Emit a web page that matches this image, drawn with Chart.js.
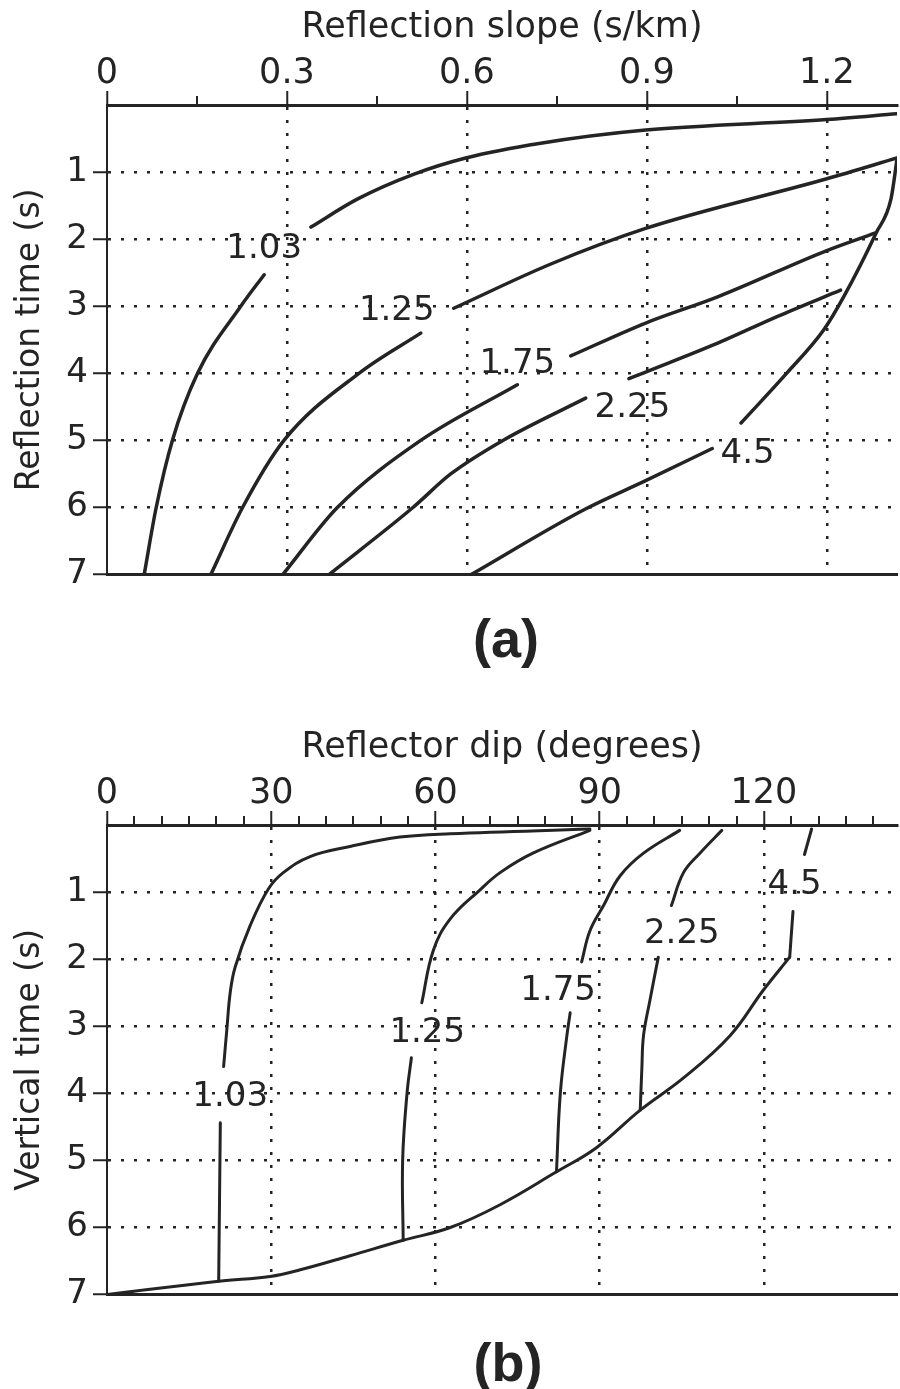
<!DOCTYPE html>
<html>
<head>
<meta charset="utf-8">
<script src="https://cdn.jsdelivr.net/npm/chart.js@4.4.1/dist/chart.umd.min.js"></script>
<style>
  html, body { margin: 0; padding: 0; background: #fff; }
  body { width: 900px; height: 1389px; position: relative; overflow: hidden; }
  .box { position: absolute; left: 0; width: 900px; height: 600px; }
  #boxA { top: 0; }
  #boxB { top: 720px; }
  .tag { position: absolute; width: 120px; text-align: center; color: #242424;
         font: bold 54px "Liberation Sans", Arial, sans-serif; line-height: 60px; }
  #tagA { left: 446px; top: 608px; }
  #tagB { left: 448px; top: 1332px; }
</style>
</head>
<body>
<div class="box" id="boxA"><canvas id="chartA" width="900" height="600"></canvas></div>
<div class="box" id="boxB"><canvas id="chartB" width="900" height="600"></canvas></div>
<div class="tag" id="tagA">(a)</div>
<div class="tag" id="tagB">(b)</div>
<script>
const INK = "#242424";
const FONT = '"DejaVu Sans", sans-serif';

// ---- (a) reflection slope (s/km) vs reflection time (s)
// each curve is split where its label sits: [lower part, upper part]
const slope103 = [
  [[0.062, 7], [0.082, 6], [0.109, 5], [0.151, 4], [0.223, 3], [0.262, 2.53]],
  [[0.34, 1.82], [0.418, 1.4], [0.512, 1.03], [0.598, 0.79], [0.723, 0.57], [0.898, 0.374], [1.2, 0.217], [1.317, 0.13]]
];
const slope125 = [
  [[0.173, 7], [0.226, 6], [0.295, 5], [0.42, 4], [0.523, 3.4]],
  [[0.578, 3.03], [0.74, 2.37], [0.898, 1.84], [1.2, 1.1], [1.317, 0.79]]
];
const slope175 = [
  [[0.293, 7], [0.384, 6], [0.523, 5], [0.684, 4.17]],
  [[0.773, 3.74], [0.898, 3.25], [1.018, 2.86], [1.2, 2.17], [1.28, 1.91]]
];
const slope225 = [
  [[0.37, 7], [0.51, 6], [0.573, 5.5], [0.66, 5], [0.798, 4.37]],
  [[0.87, 4.08], [0.898, 3.98], [1.018, 3.55], [1.118, 3.15], [1.223, 2.76]]
];
const slope45 = [
  [[0.607, 7], [0.796, 6.03], [0.898, 5.6], [1.009, 5.12]],
  [[1.057, 4.74], [1.134, 3.99], [1.195, 3.35], [1.228, 2.86], [1.282, 1.91], [1.307, 1.4], [1.317, 0.81]]
];
const slopeLabels = ["1.03", "1.25", "1.75", "2.25", "4.5"];
const slopeLabelX = [0.262, 0.483, 0.684, 0.876, 1.068];
const slopeLabelY = [2.10, 3.02, 3.81, 4.47, 5.16];

// ---- (b) reflector dip (degrees) vs vertical time (s)
const dipEnvelope = [
  [[0, 7], [20.4, 6.8], [29.8, 6.73], [35.3, 6.63], [44.4, 6.42], [54.1, 6.19], [62.7, 6.0],
   [71.8, 5.66], [82.1, 5.17], [89.4, 4.81], [97.4, 4.25], [105.3, 3.77], [113.8, 3.14],
   [119.9, 2.46], [124.7, 1.97]]
];
const dip103 = [
  [[20.4, 6.8], [20.7, 4.44]],
  [[21.3, 3.6], [21.9, 3.04], [22.5, 2.5], [23.4, 2.12], [26.2, 1.49], [29.5, 0.95], [32.2, 0.71],
   [37.1, 0.47], [44.4, 0.32], [53.5, 0.18], [62.7, 0.13], [88.2, 0.06]]
];
const dip125 = [
  [[54.1, 6.19], [54.0, 5.0], [54.8, 4.0], [55.6, 3.47]],
  [[57.5, 2.65], [59.6, 1.87], [62.7, 1.4], [68.1, 0.97], [71.8, 0.71], [77.8, 0.42], [88.2, 0.08]]
];
const dip175 = [
  [[82.1, 5.17], [82.8, 4.0], [84.0, 3.14], [84.6, 2.8]],
  [[86.7, 2.04], [88.2, 1.58], [90.7, 1.2], [93.7, 0.76], [98.0, 0.42], [104.6, 0.08]]
];
const dip225 = [
  [[97.4, 4.25], [97.7, 3.62], [98.0, 3.14], [99.2, 2.6], [100.7, 1.97]],
  [[103.1, 1.2], [105.3, 0.71], [108.3, 0.42], [112.3, 0.08]]
];
const dip45 = [
  [[124.7, 1.97], [125.3, 1.29]],
  [[127.4, 0.44], [128.7, 0.06]]
];
const dipLabels = ["1.03", "1.25", "1.75", "2.25", "4.5"];
const dipLabelX = [22.5, 58.5, 82.4, 105.0, 125.6];
const dipLabelY = [4.01, 3.06, 2.43, 1.58, 0.85];

const timeTicks = [1, 2, 3, 4, 5, 6, 7];

const clear = "rgba(0,0,0,0)";

const curveLabelPlugin = {
  id: "curveLabels",
  afterDatasetsDraw(chart, args, opts) {
    const { ctx, scales: { x, y } } = chart;
    ctx.save();
    ctx.font = "34px " + FONT;
    ctx.fillStyle = INK;
    ctx.textAlign = "center";
    ctx.textBaseline = "alphabetic";
    opts.text.forEach((t, i) => {
      ctx.fillText(t, x.getPixelForValue(opts.xs[i]), y.getPixelForValue(opts.ys[i]) + 12);
    });
    ctx.restore();
  }
};

const minorTickPlugin = {
  id: "minorTicks",
  afterDraw(chart, args, opts) {
    const { ctx, chartArea, scales: { x } } = chart;
    ctx.save();
    ctx.strokeStyle = INK;
    ctx.lineWidth = 2;
    for (let v = opts.step; v < x.max; v += opts.step) {
      const r = v / opts.major;
      if (Math.abs(r - Math.round(r)) < 1e-6) continue;
      const px = Math.round(x.getPixelForValue(v));
      ctx.beginPath();
      ctx.moveTo(px, chartArea.top);
      ctx.lineTo(px, chartArea.top - 9);
      ctx.stroke();
    }
    ctx.restore();
  }
};

// smooth: monotone spline for curves running left to right, plain bezier otherwise
const makeChart = (canvasId, curves, xTitle, yTitle, xMax, xStep, minorStep, labels, labelX, labelY, xFormat, monotone, lineWidth) => {
  const datasets = [];
  curves.forEach(curve => {
    curve.forEach(seg => {
      datasets.push({
        data: seg.map(p => ({ x: p[0], y: p[1] })),
        borderColor: INK,
        borderWidth: lineWidth,
        borderCapStyle: "round",
        pointRadius: 0,
        cubicInterpolationMode: monotone ? "monotone" : "default",
        tension: 0.4,
        fill: false
      });
    });
  });

  const config = {
    type: "line",
    data: { datasets: datasets },
    options: {
      responsive: false,
      animation: false,
      layout: { padding: { left: 0, right: 3, top: 0, bottom: 17 } },
      plugins: {
        legend: { display: false },
        tooltip: { enabled: false },
        curveLabels: { text: labels, xs: labelX, ys: labelY },
        minorTicks: { step: minorStep, major: xStep }
      },
      scales: {
        x: {
          type: "linear",
          position: "top",
          min: 0,
          max: xMax,
          ticks: {
            stepSize: xStep,
            includeBounds: false,
            color: INK,
            padding: -4,
            font: { family: FONT, size: 35 },
            callback: xFormat
          },
          grid: {
            color: ctx => (ctx.tick && ctx.tick.value > 0 ? INK : clear),
            lineWidth: 2.5,
            tickColor: INK,
            tickLength: 14,
            tickWidth: 2
          },
          border: { display: true, color: INK, width: 3, dash: [3, 10] },
          title: {
            display: true,
            text: xTitle,
            color: INK,
            font: { family: FONT, size: 35 },
            padding: { top: 7, bottom: 2 }
          },
          afterFit: s => { s.height = 105; }
        },
        xb: {
          type: "linear",
          position: "bottom",
          min: 0,
          max: xMax,
          ticks: { display: false },
          grid: { display: false, drawTicks: false },
          border: { display: true, color: INK, width: 3 },
          afterFit: s => { s.height = 0; }
        },
        y: {
          type: "linear",
          reverse: true,
          min: 0,
          max: 7,
          afterBuildTicks: s => { s.ticks = [0].concat(timeTicks).map(v => ({ value: v })); },
          ticks: {
            color: INK,
            padding: 5,
            font: { family: FONT, size: 34 },
            callback: v => (v === 0 ? "" : String(v))
          },
          grid: {
            color: ctx => (ctx.tick && ctx.tick.value > 0 && ctx.tick.value < 7 ? INK : clear),
            lineWidth: 2.5,
            tickColor: ctx => (ctx.tick && ctx.tick.value === 0 ? clear : INK),
            tickLength: 14,
            tickWidth: 2
          },
          border: { display: true, color: INK, width: 2, dash: [3, 10] },
          title: {
            display: true,
            text: yTitle,
            color: INK,
            font: { family: FONT, size: 33 },
            padding: { top: 11, bottom: 4 }
          },
          afterFit: s => { s.width = 107; }
        }
      }
    },
    plugins: [curveLabelPlugin, minorTickPlugin]
  };
  return new Chart(document.getElementById(canvasId), config);
};

makeChart(
  "chartA",
  [slope103, slope125, slope175, slope225, slope45],
  "Reflection slope (s/km)",
  "Reflection time (s)",
  1.317, 0.3, 0.15,
  slopeLabels, slopeLabelX, slopeLabelY,
  v => (v === 0 ? "0" : v.toFixed(1)),
  true, 3.5
);

makeChart(
  "chartB",
  [dipEnvelope, dip103, dip125, dip175, dip225, dip45],
  "Reflector dip (degrees)",
  "Vertical time (s)",
  144.3, 30, 5,
  dipLabels, dipLabelX, dipLabelY,
  v => String(Math.round(v)),
  false, 3
);
</script>
</body>
</html>
